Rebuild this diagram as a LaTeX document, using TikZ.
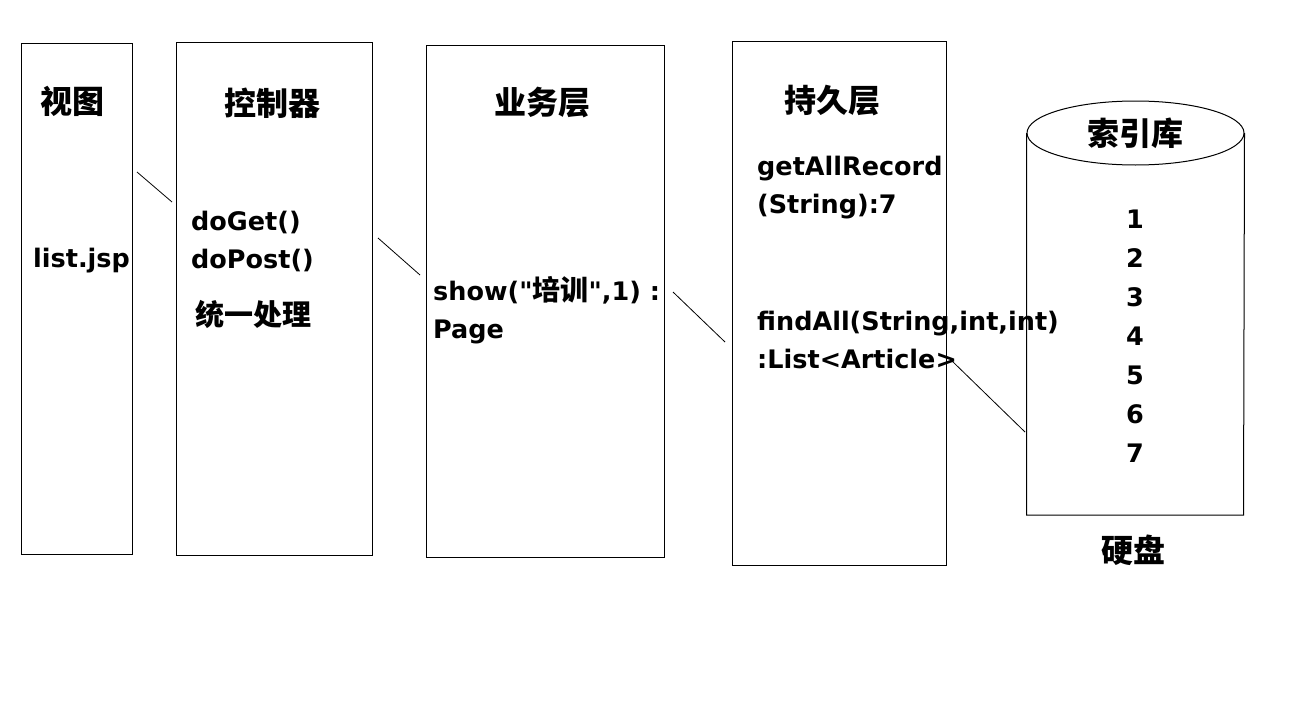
\documentclass[tikz,border=0pt]{standalone}
\usepackage{fontspec}
\setmainfont{DejaVu Sans}
\newfontfamily\qfont{DejaVu Sans}
\newfontfamily\cjk{Noto Sans CJK SC}
\usetikzlibrary{shapes.geometric}
\newcommand{\sq}{{\qfont\bfseries\char34}}
\begin{document}
\begin{tikzpicture}[x=1pt,y=-1pt,
  layerbox/.style={draw=black,line width=1pt,inner sep=0pt,fill=none},
  head/.style={inner sep=0pt,font=\cjk\bfseries\fontsize{32}{34}\selectfont},
  code/.style={inner sep=0pt,anchor=base west,font=\bfseries\fontsize{25.5}{30}\selectfont},
  num/.style={inner sep=0pt,font=\bfseries\fontsize{25.5}{30}\selectfont},
  link/.style={draw=black,line width=0.8pt}]
\useasboundingbox[fill=white] (0,0) rectangle (1304,720);
% layer boxes
\node[layerbox,minimum width=111,minimum height=511] (view) at (76.5,298.5) {};
\node[layerbox,minimum width=196,minimum height=513] (ctrl) at (274,298.5) {};
\node[layerbox,minimum width=238,minimum height=512] (svc) at (545,301) {};
\node[layerbox,minimum width=214,minimum height=524] (dao) at (839,303) {};
% headings
\node[head] (tview) at (72,101) {视图};
\node[head] (tctrl) at (272,103) {控制器};
\node[head] (tsvc) at (542,103) {业务层};
\node[head] (tdao) at (832,101) {持久层};
% view
\node[code] (jsp) at (33,267) {list.jsp};
% controller
\node[code] (doget) at (191,230) {doGet()};
\node[code] (dopost) at (191,268) {doPost()};
\node[head,font=\cjk\bfseries\fontsize{29}{31}\selectfont] (uni) at (253,314) {统一处理};
% service
\node[code] (show) at (433,300) {show(\sq{\cjk\fontsize{28}{30}\selectfont 培训}\sq,1) :};
\node[code] (page) at (433,338) {Page};
% dao
\node[code] (gar) at (757,175) {getAllRecord};
\node[code] (gars) at (757,213) {(String):7};
\node[code] (fa) at (757,330) {findAll(String,int,int)};
\node[code] (fal) at (757,368) {:List<Article>};
% index store cylinder
\node[ellipse,draw=black,line width=1pt,minimum width=217,minimum height=64,inner sep=0pt,
  font=\cjk\bfseries\fontsize{32}{34}\selectfont] (idx) at (1135.5,133) {索引库};
\draw[line width=1pt] (idx.west) -- ++(0,382) coordinate (cylbl) -- ++(217,0) coordinate (cylbr) -- (idx.east);
\foreach \n [count=\i from 0] in {1,...,7}
  \node[num] (n\n) at (1135,219+39*\i) {\n};
\node[head] (disk) at (1133,550) {硬盘};
% connectors
\coordinate (a1) at (137,172); \coordinate (a2) at (172,202);
\coordinate (b1) at (378,238); \coordinate (b2) at (420,275);
\coordinate (c1) at (673,292); \coordinate (c2) at (725,342);
\coordinate (d1) at (951,360); \coordinate (d2) at (1025,432);
\draw[link] (a1) -- (a2);
\draw[link] (b1) -- (b2);
\draw[link] (c1) -- (c2);
\draw[link] (d1) -- (d2);
\end{tikzpicture}
\end{document}
